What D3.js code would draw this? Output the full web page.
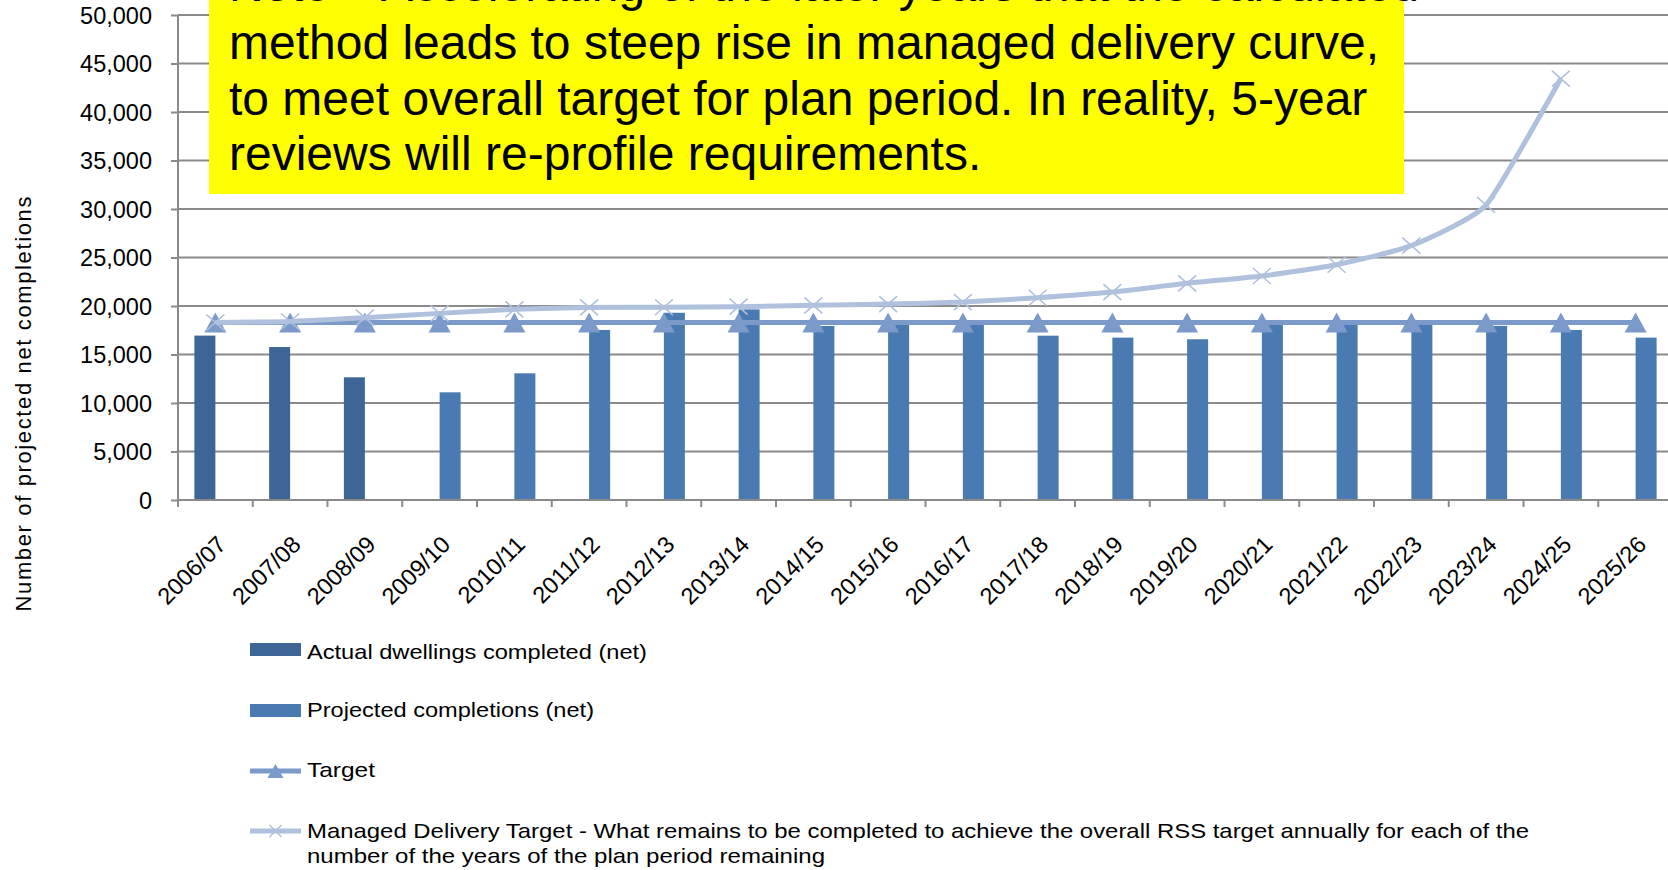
<!DOCTYPE html>
<html>
<head>
<meta charset="utf-8">
<script src="https://cdn.jsdelivr.net/npm/d3@7"></script>
<style>
  html, body { margin: 0; padding: 0; background: #ffffff; }
  svg { display: block; font-family: "Liberation Sans", Arial, sans-serif; }
</style>
</head>
<body>
<svg id="chart" width="1668" height="870"></svg>
<script>
// ---------------- data ----------------
const categories = ["2006/07","2007/08","2008/09","2009/10","2010/11","2011/12","2012/13","2013/14","2014/15","2015/16",
                    "2016/17","2017/18","2018/19","2019/20","2020/21","2021/22","2022/23","2023/24","2024/25","2025/26"];
const actualCompleted = [16950, 15770, 12650, null, null, null, null, null, null, null,
                         null, null, null, null, null, null, null, null, null, null];
const projectedCompleted = [null, null, null, 11100, 13060, 17530, 19300, 19650, 17940, 18040,
                            18040, 16940, 16740, 16570, 18040, 18040, 18040, 17950, 17530, 16740];
const targetValues = [18300, 18300, 18300, 18300, 18300, 18300, 18300, 18300, 18300, 18300,
                      18300, 18300, 18300, 18300, 18300, 18300, 18300, 18300, 18300, 18300];
const managedTarget = [18300, 18400, 18800, 19240, 19660, 19850, 19870, 19930, 20070, 20200,
                       20400, 20850, 21440, 22340, 23090, 24250, 26220, 30410, 43450, null];
const yTicks = [0, 5000, 10000, 15000, 20000, 25000, 30000, 35000, 40000, 45000, 50000];
const seriesNames = ["actual", "projected"];
const legendLabels = [
  "Actual dwellings completed (net)",
  "Projected completions (net)",
  "Target",
  "Managed Delivery Target - What remains to be completed to achieve the overall RSS target annually for each of the",
  "number of the years of the plan period remaining"
];
const noteLines = [
  "Note \u2013 Accelerating of the later years that the calculated",
  "method leads to steep rise in managed delivery curve,",
  "to meet overall target for plan period. In reality, 5-year",
  "reviews will re-profile requirements."
];
const yAxisTitle = "Number of projected net completions";

// ---------------- styles ----------------
const colActual = "#3d6697";
const colProjected = "#4a7ab2";
const colTarget = "#7b99c9";
const colManaged = "#afc1dd";
const colGrid = "#8a8a8a";

const svg = d3.select("#chart");
const plot = { left: 178, right: 1673, top: 15, bottom: 500 };

const x = d3.scaleBand().domain(categories).range([plot.left, plot.right]).padding(0);
const xs = d3.scaleBand().domain(seriesNames).range([0, x.bandwidth()]).paddingInner(0).paddingOuter(0.78);
const y = d3.scaleLinear().domain([0, 50000]).range([plot.bottom, plot.top]);
const cx = c => x(c) + x.bandwidth() / 2;

// gridlines
svg.append("g").selectAll("line").data(yTicks.filter(d => d > 0)).join("line")
  .attr("x1", plot.left).attr("x2", 1668)
  .attr("y1", d => y(d)).attr("y2", d => y(d))
  .attr("stroke", colGrid).attr("stroke-width", 2);

// y axis
const yAxis = svg.append("g").attr("transform", `translate(${plot.left},0)`)
  .call(d3.axisLeft(y).tickValues(yTicks).tickFormat(d3.format(",")).tickSize(7).tickPadding(19));
yAxis.select(".domain").attr("stroke", colGrid).attr("stroke-width", 2).attr("d", `M0,${plot.top}V${plot.bottom}`);
yAxis.selectAll(".tick line").attr("stroke", colGrid).attr("stroke-width", 2);
yAxis.selectAll(".tick text").attr("font-size", 23.5).attr("fill", "#000")
  .attr("font-family", "'Liberation Sans', Arial, sans-serif").attr("dy", "0.35em");

// bars
const barG = svg.append("g");
barG.selectAll("rect.actual").data(categories.map((c, i) => ({c, v: actualCompleted[i]})).filter(d => d.v != null))
  .join("rect").attr("class", "actual")
  .attr("x", d => x(d.c) + xs("actual")).attr("width", xs.bandwidth())
  .attr("y", d => y(d.v)).attr("height", d => y(0) - y(d.v))
  .attr("fill", colActual);
barG.selectAll("rect.projected").data(categories.map((c, i) => ({c, v: projectedCompleted[i]})).filter(d => d.v != null))
  .join("rect").attr("class", "projected")
  .attr("x", d => x(d.c) + xs("projected")).attr("width", xs.bandwidth())
  .attr("y", d => y(d.v)).attr("height", d => y(0) - y(d.v))
  .attr("fill", colProjected);

// x axis line + boundary ticks
svg.append("line").attr("x1", plot.left).attr("x2", 1668).attr("y1", plot.bottom).attr("y2", plot.bottom)
  .attr("stroke", colGrid).attr("stroke-width", 2);
const boundaries = categories.map(c => x(c)).concat([x(categories[categories.length - 1]) + x.bandwidth()]);
svg.append("g").selectAll("line").data(boundaries).join("line")
  .attr("x1", d => d).attr("x2", d => d).attr("y1", plot.bottom).attr("y2", plot.bottom + 7)
  .attr("stroke", colGrid).attr("stroke-width", 2);

// x labels
svg.append("g").selectAll("text").data(categories).join("text")
  .attr("transform", d => `translate(${cx(d) + 12},${plot.bottom + 46}) rotate(-45)`)
  .attr("text-anchor", "end").attr("font-size", 23.5).attr("fill", "#000")
  .text(d => d);

// target line
const lineGen = d3.line().defined(d => d.v != null).x(d => cx(d.c)).y(d => y(d.v));
const targetData = categories.map((c, i) => ({c, v: targetValues[i]}));
svg.append("path").datum(targetData).attr("d", lineGen)
  .attr("fill", "none").attr("stroke", colTarget).attr("stroke-width", 5);
const triPath = "M0,-10L11,10L-11,10Z";
svg.append("g").selectAll("path").data(targetData).join("path")
  .attr("d", triPath).attr("transform", d => `translate(${cx(d.c)},${y(d.v)})`)
  .attr("fill", colTarget);

// managed delivery target
const managedData = categories.map((c, i) => ({c, v: managedTarget[i]})).filter(d => d.v != null);
svg.append("path").datum(managedData)
  .attr("d", d3.line().x(d => cx(d.c)).y(d => y(d.v)).curve(d3.curveCardinal.tension(0.5)))
  .attr("fill", "none").attr("stroke", colManaged).attr("stroke-width", 5);
const xMark = "M-9,-8L9,8M-9,8L9,-8";
svg.append("g").selectAll("path").data(managedData).join("path")
  .attr("d", xMark).attr("transform", d => `translate(${cx(d.c)},${y(d.v)})`)
  .attr("fill", "none").attr("stroke", colManaged).attr("stroke-width", 1.6);

// yellow note box
svg.append("rect").attr("x", 209).attr("y", -10).attr("width", 1195).attr("height", 204).attr("fill", "#ffff00");
const noteBase = [1, 58.5, 114.5, 170];
svg.append("g").selectAll("text").data(noteLines).join("text")
  .attr("x", 229).attr("y", (d, i) => noteBase[i])
  .attr("font-size", 48).attr("fill", "#000")
  .text(d => d);

// y axis title
svg.append("text").attr("transform", "translate(31,404) rotate(-90)")
  .attr("text-anchor", "middle").attr("font-size", 22).attr("fill", "#000")
  .attr("textLength", 415).attr("lengthAdjust", "spacing")
  .text(yAxisTitle);

// legend
const lg = svg.append("g");
lg.append("rect").attr("x", 250).attr("y", 643).attr("width", 51).attr("height", 13).attr("fill", colActual);
lg.append("rect").attr("x", 250).attr("y", 704).attr("width", 51).attr("height", 13).attr("fill", colProjected);
lg.append("line").attr("x1", 250).attr("x2", 301).attr("y1", 771).attr("y2", 771).attr("stroke", colTarget).attr("stroke-width", 5);
lg.append("path").attr("d", "M0,-7L8,7L-8,7Z").attr("transform", "translate(275.5,771)").attr("fill", colTarget);
lg.append("line").attr("x1", 250).attr("x2", 301).attr("y1", 831).attr("y2", 831).attr("stroke", colManaged).attr("stroke-width", 5);
lg.append("path").attr("d", "M-6,-6L6,6M-6,6L6,-6").attr("transform", "translate(275.5,831)").attr("fill", "none").attr("stroke", colManaged).attr("stroke-width", 1.5);
const legendBase = [659, 717, 777, 838, 863];
const legendWidths = [340, 287, 68, 1222, 518];
lg.selectAll("text").data(legendLabels).join("text")
  .attr("x", 307).attr("y", (d, i) => legendBase[i])
  .attr("font-size", 21).attr("fill", "#000")
  .attr("textLength", (d, i) => legendWidths[i]).attr("lengthAdjust", "spacingAndGlyphs")
  .text(d => d);
</script>
</body>
</html>
